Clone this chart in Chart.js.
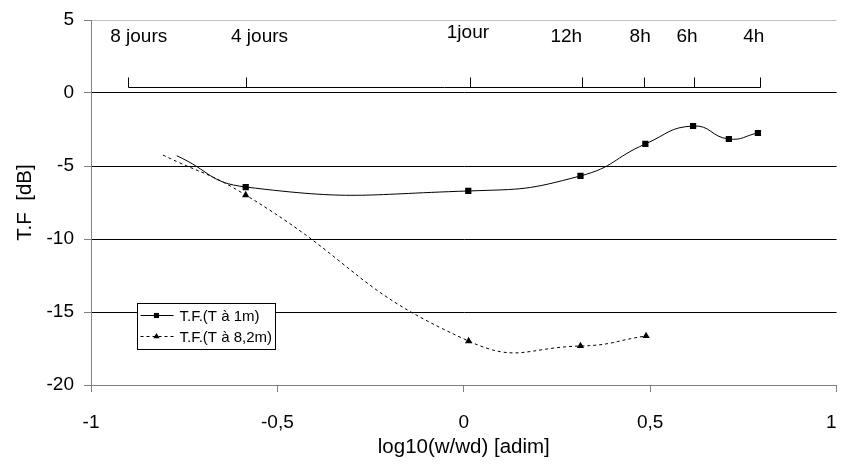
<!DOCTYPE html>
<html>
<head>
<meta charset="utf-8">
<script src="https://cdn.jsdelivr.net/npm/chart.js@4.4.1/dist/chart.umd.min.js"></script>
<style>
  html, body { margin: 0; padding: 0; background: #fff; }
  #chart { display: block; }
</style>
</head>
<body>
<canvas id="chart" width="841" height="465"></canvas>
<script>
const seriesNames = ['T.F.(T à 1m)', 'T.F.(T à 8,2m)'];

// log10(w/wd) and transfer function (dB) for each sensor depth
const depth1X = [-0.77, -0.585, 0.012, 0.313, 0.487, 0.615, 0.711, 0.789];
const depth1Y = [-4.3, -6.44, -6.71, -5.68, -3.49, -2.26, -3.15, -2.74];
const depth2X = [-0.807, -0.585, 0.013, 0.313, 0.489];
const depth2Y = [-4.25, -6.99, -16.99, -17.33, -16.64];

// period scale along the top of the plot
const periodLabels = ['8 jours', '4 jours', '1jour', '12h', '8h', '6h', '4h'];
const periodX = [-0.9, -0.583, 0.016, 0.316, 0.484, 0.618, 0.794];
const periodLabelX = [-0.872, -0.548, 0.011, 0.275, 0.473, 0.599, 0.778];
const periodLabelY = [3.5, 3.5, 3.8, 3.5, 3.5, 3.5, 3.5];
const periodLineY = 0.4;

Chart.defaults.font.family = '"Liberation Sans", Arial, sans-serif';
Chart.defaults.color = '#000';

const toPoints = (xs, ys) => xs.map((x, i) => ({ x: x, y: ys[i] }));
const commaNumber = (v) => String(v).replace('.', ',');

// bracket line with the period ticks and their names
const periodScale = {
  id: 'periodScale',
  afterDatasetsDraw(chart) {
    const { ctx, scales: { x, y } } = chart;
    const lineY = Math.round(y.getPixelForValue(periodLineY)) + 0.5;
    ctx.save();
    ctx.strokeStyle = '#000';
    ctx.lineWidth = 1;
    ctx.beginPath();
    ctx.moveTo(Math.round(x.getPixelForValue(periodX[0])) + 0.5, lineY);
    ctx.lineTo(Math.round(x.getPixelForValue(periodX[periodX.length - 1])) + 0.5, lineY);
    periodX.forEach((v) => {
      const px = Math.round(x.getPixelForValue(v)) + 0.5;
      ctx.moveTo(px, lineY);
      ctx.lineTo(px, lineY - 10);
    });
    ctx.stroke();

    ctx.font = '19px "Liberation Sans", Arial, sans-serif';
    ctx.fillStyle = '#000';
    ctx.textAlign = 'center';
    ctx.textBaseline = 'alphabetic';
    periodLabels.forEach((label, i) => {
      ctx.fillText(label, x.getPixelForValue(periodLabelX[i]), y.getPixelForValue(periodLabelY[i]));
    });
    ctx.restore();
  },
};

// framed legend sitting inside the plot
const boxLegend = {
  id: 'boxLegend',
  afterDraw(chart) {
    const ctx = chart.ctx;
    const left = 137.5, top = 303.5, w = 138, h = 46;
    ctx.save();
    ctx.fillStyle = '#fff';
    ctx.fillRect(left, top, w, h);
    ctx.strokeStyle = '#000';
    ctx.lineWidth = 1;
    ctx.strokeRect(left, top, w, h);

    chart.data.datasets.forEach((ds, i) => {
      const cy = Math.round(top + 11 + i * 21) + 0.5;
      ctx.strokeStyle = ds.borderColor;
      ctx.setLineDash(ds.borderDash || []);
      ctx.beginPath();
      ctx.moveTo(left + 3, cy);
      ctx.lineTo(left + 36, cy);
      ctx.stroke();
      ctx.setLineDash([]);
      ctx.fillStyle = ds.pointBackgroundColor;
      Chart.helpers.drawPoint(ctx, { pointStyle: ds.pointStyle, radius: 3.6, borderWidth: 0 }, left + 19, cy);

      ctx.fillStyle = '#000';
      ctx.font = '15px "Liberation Sans", Arial, sans-serif';
      ctx.textAlign = 'left';
      ctx.textBaseline = 'middle';
      ctx.fillText(ds.label, left + 42, cy + 1);
    });
    ctx.restore();
  },
};

new Chart(document.getElementById('chart'), {
  type: 'scatter',
  data: {
    datasets: [
      {
        label: seriesNames[0],
        data: toPoints(depth1X, depth1Y),
        showLine: true,
        borderColor: '#000',
        borderWidth: 1,
        tension: 0.5,
        pointStyle: 'rect',
        // the first point only anchors the curve, it has no marker
        pointRadius: (ctx) => (ctx.dataIndex === 0 ? 0 : 4.4),
        pointBackgroundColor: '#000',
        pointBorderColor: '#000',
        pointBorderWidth: 0,
      },
      {
        label: seriesNames[1],
        data: toPoints(depth2X, depth2Y),
        showLine: true,
        borderColor: '#000',
        borderWidth: 1,
        borderDash: [3, 3],
        tension: 0.5,
        pointStyle: 'triangle',
        pointRadius: (ctx) => (ctx.dataIndex === 0 ? 0 : 4.2),
        pointBackgroundColor: '#000',
        pointBorderColor: '#000',
        pointBorderWidth: 0,
      },
    ],
  },
  options: {
    responsive: false,
    animation: false,
    events: [],
    layout: {
      padding: { top: 20, right: 1, left: 0, bottom: 0 },
    },
    scales: {
      x: {
        type: 'linear',
        min: -1,
        max: 1,
        afterFit: (scale) => {
          scale.height = 80;
          scale.paddingLeft = 0;
          scale.paddingRight = 0;
        },
        border: { color: '#808080' },
        grid: {
          drawOnChartArea: false,
          color: '#808080',
          tickLength: 7,
        },
        ticks: {
          stepSize: 0.5,
          padding: 19,
          maxRotation: 0,
          font: { size: 19 },
          // last label is pulled in so it stays on the canvas
          callback: (v) => (v === 1 ? '1  ' : commaNumber(v)),
        },
        title: {
          display: true,
          text: 'log10(w/wd) [adim]',
          font: { size: 20.5 },
          padding: { top: 0, bottom: 5 },
        },
      },
      y: {
        min: -20,
        max: 5,
        afterFit: (scale) => {
          scale.width = 91;
          scale.paddingTop = 0;
          scale.paddingBottom = 0;
        },
        border: { color: '#808080' },
        grid: {
          color: (ctx) => {
            const v = ctx.tick && ctx.tick.value;
            if (v === 5) return '#c0c0c0';
            if (v === -20) return '#808080';
            return '#000';
          },
          tickColor: '#808080',
          tickLength: 7,
        },
        ticks: {
          stepSize: 5,
          padding: 10,
          font: { size: 19 },
        },
        title: {
          display: true,
          text: 'T.F  [dB]',
          font: { size: 20.5 },
          padding: { top: 13, bottom: 0 },
        },
      },
    },
    plugins: {
      legend: { display: false },
      tooltip: { enabled: false },
    },
  },
  plugins: [periodScale, boxLegend],
});
</script>
</body>
</html>
